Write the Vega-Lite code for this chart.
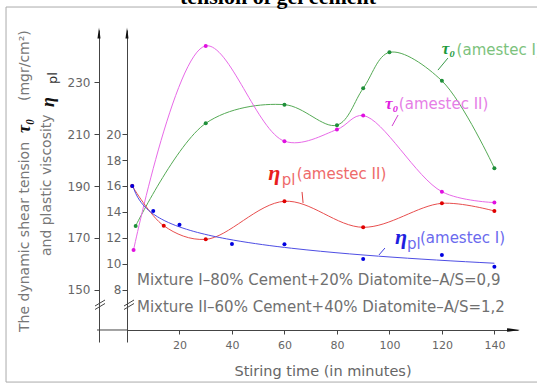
{
"$schema":"https://vega.github.io/schema/vega-lite/v6.json",
"width":391,"height":312,
"autosize":{"type":"none"},
"padding":{"left":127,"top":30,"right":19,"bottom":42},
"background":"white",
"config":{"view":{"stroke":null},"axis":{"grid":false,"domainColor":"#444","tickColor":"#444","labelColor":"#666","labelFont":"DejaVu Sans","titleFont":"DejaVu Sans","titleColor":"#666","titleFontWeight":"normal"}},
"datasets":{
"tau":[
{"t":3.3,"tau":174.6,"mix":"I"},{"t":30,"tau":214.2,"mix":"I"},{"t":60,"tau":221.4,"mix":"I"},{"t":80,"tau":213.5,"mix":"I"},{"t":90,"tau":227.7,"mix":"I"},{"t":100,"tau":241.6,"mix":"I"},{"t":120,"tau":230.6,"mix":"I"},{"t":140,"tau":196.9,"mix":"I"},
{"t":2.5,"tau":165.3,"mix":"II"},{"t":30,"tau":244.1,"mix":"II"},{"t":60,"tau":207.3,"mix":"II"},{"t":80,"tau":211.8,"mix":"II"},{"t":90,"tau":217.2,"mix":"II"},{"t":120,"tau":187.8,"mix":"II"},{"t":140,"tau":183.6,"mix":"II"}],
"eta":[
{"t":2,"eta":16.0,"mix":"I"},{"t":10,"eta":14.07,"mix":"I"},{"t":20,"eta":13.01,"mix":"I"},{"t":40,"eta":11.52,"mix":"I"},{"t":60,"eta":11.5,"mix":"I"},{"t":90,"eta":10.36,"mix":"I"},{"t":120,"eta":10.67,"mix":"I"},{"t":140,"eta":9.77,"mix":"I"},
{"t":2,"eta":16.0,"mix":"II"},{"t":14,"eta":12.93,"mix":"II"},{"t":30,"eta":11.88,"mix":"II"},{"t":60,"eta":14.82,"mix":"II"},{"t":90,"eta":12.81,"mix":"II"},{"t":120,"eta":14.66,"mix":"II"},{"t":140,"eta":14.07,"mix":"II"}],
"labels":[
{"t":119.9,"eta":26.58,"text":"τ₀","part":"sym","series":"tauI"},
{"t":98.3,"eta":22.33,"text":"τ₀","part":"sym","series":"tauII"},
{"t":53.85,"eta":17.0,"text":"η","part":"sym","series":"etaII"},
{"t":102.1,"eta":12.06,"text":"η","part":"sym","series":"etaI"},
{"t":125.6,"eta":26.54,"text":"(amestec I)","part":"name","series":"tauI"},
{"t":103.6,"eta":22.33,"text":"(amestec II)","part":"name","series":"tauII"},
{"t":64.7,"eta":16.93,"text":"(amestec II)","part":"name","series":"etaII"},
{"t":58.95,"eta":16.46,"text":"pl","part":"name","series":"etaII"},
{"t":111.65,"eta":11.98,"text":"(amestec I)","part":"name","series":"etaI"},
{"t":106.7,"eta":11.52,"text":"pl","part":"name","series":"etaI"},
{"t":3.81,"eta":8.74,"text":"Mixture I–80% Cement+20% Diatomite–A/S=0,9","part":"note","series":"all"},
{"t":3.81,"eta":6.66,"text":"Mixture II–60% Cement+40% Diatomite–A/S=1,2","part":"note","series":"all"},
{"t":-38.87,"eta":4.73,"text":"The dynamic shear tension","part":"ytitle","series":"all"},
{"t":-38.87,"eta":22.56,"text":"(mgr/cm²)","part":"ytitle","series":"all"},
{"t":-30.49,"eta":10.59,"text":"and plastic viscosity","part":"ytitle","series":"all"},
{"t":-38.87,"eta":20.1,"text":"τ₀","part":"ysym","series":"all"},
{"t":-29.9,"eta":22.1,"text":"η","part":"ysym","series":"all"},
{"t":-28.2,"eta":23.88,"text":"pl","part":"ysub","series":"all"},
{"t":57.54,"eta":30.09,"text":"tension of gel cement","part":"title","series":"all"}],
"segs":[
{"t":122.3,"eta":25.88,"t2":118.5,"eta2":24.95,"part":"leader","series":"tauI"},
{"t":103.3,"eta":21.48,"t2":101.0,"eta2":20.63,"part":"leader","series":"tauII"},
{"t":66.7,"eta":15.54,"t2":67.1,"eta2":14.69,"part":"leader","series":"etaII"},
{"t":98.3,"eta":11.21,"t2":96.0,"eta2":10.67,"part":"leader","series":"etaI"},
{"t":-12.19,"eta":6.733,"t2":-8.38,"eta2":7.196,"part":"break","series":"all"},
{"t":-12.19,"eta":6.463,"t2":-8.38,"eta2":6.926,"part":"break","series":"all"},
{"t":-1.14,"eta":6.733,"t2":2.67,"eta2":7.196,"part":"break","series":"all"},
{"t":-1.14,"eta":6.463,"t2":2.67,"eta2":6.926,"part":"break","series":"all"},
{"t":-11.43,"eta":4.88,"t2":0,"eta2":4.88,"part":"axis","series":"all"}],
"frame":[{"t":-46.1,"eta":29.82,"t2":157.5,"eta2":0.86}],
"arrows":[{"t":-10.67,"eta":27.81,"dir":"up"},{"t":0,"eta":27.81,"dir":"up"},{"t":147.3,"eta":4.88,"dir":"right"}]
},
"encoding":{"x":{"field":"t","type":"quantitative","scale":{"domain":[0,149],"nice":false,"zero":false},"axis":{"values":[20,40,60,80,100,120,140],"offset":-12,"tickSize":4,"labelFontSize":11,"labelPadding":5,"title":"Stiring time (in minutes)","titleFontSize":14.5,"titlePadding":14}}},
"layer":[
{"encoding":{"y":{"field":"tau","type":"quantitative","scale":{"domain":[129.77,250.23],"nice":false,"zero":false},"axis":{"orient":"left","offset":28,"values":[150,170,190,210,230],"tickSize":5,"labelFontSize":12,"labelPadding":4,"title":null}}},
"layer":[
{"data":{"name":"tau"},"transform":[{"filter":"datum.mix==='I'"}],"mark":{"type":"line","interpolate":"catmull-rom","color":"#55aa55","strokeWidth":1}},
{"data":{"name":"tau"},"transform":[{"filter":"datum.mix==='II'"}],"mark":{"type":"line","interpolate":"catmull-rom","color":"#e86ae8","strokeWidth":1}},
{"data":{"name":"tau"},"transform":[{"filter":"datum.mix==='I'"}],"mark":{"type":"point","filled":true,"opacity":1,"size":16,"color":"#1f8f3a"}},
{"data":{"name":"tau"},"transform":[{"filter":"datum.mix==='II'"}],"mark":{"type":"point","filled":true,"opacity":1,"size":16,"color":"#e010e0"}}
]},
{"encoding":{"y":{"field":"eta","type":"quantitative","scale":{"domain":[3.953,28.046],"nice":false,"zero":false},"axis":{"orient":"left","offset":0,"values":[8,10,12,14,16,18,20],"tickSize":5,"labelFontSize":12,"labelPadding":1,"title":null}}},
"layer":[
{"data":{"name":"frame"},"mark":{"type":"rect","fill":"transparent","stroke":"#aaa","strokeWidth":1},"encoding":{"x2":{"field":"t2"},"y2":{"field":"eta2"}}},
{"data":{"name":"eta"},"transform":[{"filter":"datum.mix==='II'"}],"mark":{"type":"line","interpolate":"catmull-rom","color":"#e84e4e","strokeWidth":1}},
{"data":{"name":"eta"},"transform":[{"filter":"datum.mix==='I'"},{"regression":"eta","on":"t","method":"log"}],"mark":{"type":"line","color":"#4e4ee4","strokeWidth":1}},
{"data":{"name":"eta"},"transform":[{"filter":"datum.mix==='II'"}],"mark":{"type":"point","filled":true,"opacity":1,"size":16,"color":"#e00000"}},
{"data":{"name":"eta"},"transform":[{"filter":"datum.mix==='I'"}],"mark":{"type":"point","filled":true,"opacity":1,"size":16,"color":"#0000e0"}},
{"data":{"name":"segs"},"transform":[{"filter":"datum.series==='tauI'"}],"mark":{"type":"rule","color":"#3a9a4a","strokeWidth":1},"encoding":{"x2":{"field":"t2"},"y2":{"field":"eta2"}}},
{"data":{"name":"segs"},"transform":[{"filter":"datum.series==='tauII'"}],"mark":{"type":"rule","color":"#d040d0","strokeWidth":1},"encoding":{"x2":{"field":"t2"},"y2":{"field":"eta2"}}},
{"data":{"name":"segs"},"transform":[{"filter":"datum.series==='etaII'"}],"mark":{"type":"rule","color":"#e04040","strokeWidth":1},"encoding":{"x2":{"field":"t2"},"y2":{"field":"eta2"}}},
{"data":{"name":"segs"},"transform":[{"filter":"datum.series==='etaI'"}],"mark":{"type":"rule","color":"#4040e0","strokeWidth":1},"encoding":{"x2":{"field":"t2"},"y2":{"field":"eta2"}}},
{"data":{"name":"segs"},"transform":[{"filter":"datum.series==='all'"}],"mark":{"type":"rule","color":"#444","strokeWidth":1},"encoding":{"x2":{"field":"t2"},"y2":{"field":"eta2"}}},
{"data":{"name":"arrows"},"transform":[{"filter":"datum.dir==='up'"}],"mark":{"type":"point","shape":"M0,-1L0.28,1L-0.28,1Z","filled":true,"opacity":1,"size":121,"color":"#111"}},
{"data":{"name":"arrows"},"transform":[{"filter":"datum.dir==='right'"}],"mark":{"type":"point","shape":"M1,0L-1,0.28L-1,-0.28Z","filled":true,"opacity":1,"size":169,"color":"#111"}},
{"data":{"name":"labels"},"transform":[{"filter":"datum.part==='sym' && datum.series==='tauI'"}],"mark":{"type":"text","align":"left","baseline":"middle","font":"Liberation Serif","fontStyle":"italic","fontWeight":"bold","fontSize":17,"color":"#1e9a3c"},"encoding":{"text":{"field":"text"}}},
{"data":{"name":"labels"},"transform":[{"filter":"datum.part==='sym' && datum.series==='tauII'"}],"mark":{"type":"text","align":"left","baseline":"middle","font":"Liberation Serif","fontStyle":"italic","fontWeight":"bold","fontSize":17,"color":"#e01ee0"},"encoding":{"text":{"field":"text"}}},
{"data":{"name":"labels"},"transform":[{"filter":"datum.part==='sym' && datum.series==='etaII'"}],"mark":{"type":"text","align":"left","baseline":"middle","font":"Liberation Serif","fontStyle":"italic","fontWeight":"bold","fontSize":22,"color":"#e81e1e"},"encoding":{"text":{"field":"text"}}},
{"data":{"name":"labels"},"transform":[{"filter":"datum.part==='sym' && datum.series==='etaI'"}],"mark":{"type":"text","align":"left","baseline":"middle","font":"Liberation Serif","fontStyle":"italic","fontWeight":"bold","fontSize":22,"color":"#1e1ee0"},"encoding":{"text":{"field":"text"}}},
{"data":{"name":"labels"},"transform":[{"filter":"datum.part==='name' && datum.series==='tauI'"}],"mark":{"type":"text","align":"left","baseline":"middle","font":"DejaVu Sans","fontSize":15,"color":"#7cc27c"},"encoding":{"text":{"field":"text"}}},
{"data":{"name":"labels"},"transform":[{"filter":"datum.part==='name' && datum.series==='tauII'"}],"mark":{"type":"text","align":"left","baseline":"middle","font":"DejaVu Sans","fontSize":15,"color":"#e67ee6"},"encoding":{"text":{"field":"text"}}},
{"data":{"name":"labels"},"transform":[{"filter":"datum.part==='name' && datum.series==='etaII'"}],"mark":{"type":"text","align":"left","baseline":"middle","font":"DejaVu Sans","fontSize":15,"color":"#ee6a6a"},"encoding":{"text":{"field":"text"}}},
{"data":{"name":"labels"},"transform":[{"filter":"datum.part==='name' && datum.series==='etaI'"}],"mark":{"type":"text","align":"left","baseline":"middle","font":"DejaVu Sans","fontSize":15,"color":"#6a6aee"},"encoding":{"text":{"field":"text"}}},
{"data":{"name":"labels"},"transform":[{"filter":"datum.part==='note'"}],"mark":{"type":"text","align":"left","baseline":"middle","font":"DejaVu Sans","fontSize":15,"color":"#707070"},"encoding":{"text":{"field":"text"}}},
{"data":{"name":"labels"},"transform":[{"filter":"datum.part==='ytitle'"}],"mark":{"type":"text","align":"left","baseline":"middle","angle":270,"font":"DejaVu Sans","fontSize":14,"color":"#777"},"encoding":{"text":{"field":"text"}}},
{"data":{"name":"labels"},"transform":[{"filter":"datum.part==='ysym'"}],"mark":{"type":"text","align":"left","baseline":"middle","angle":270,"font":"Liberation Serif","fontStyle":"italic","fontWeight":"bold","fontSize":18,"color":"#111"},"encoding":{"text":{"field":"text"}}},
{"data":{"name":"labels"},"transform":[{"filter":"datum.part==='ysub'"}],"mark":{"type":"text","align":"left","baseline":"middle","angle":270,"font":"DejaVu Sans","fontSize":13,"color":"#333"},"encoding":{"text":{"field":"text"}}},
{"data":{"name":"labels"},"transform":[{"filter":"datum.part==='title'"}],"mark":{"type":"text","align":"center","baseline":"alphabetic","font":"Liberation Serif","fontWeight":"bold","fontSize":22,"color":"#000"},"encoding":{"text":{"field":"text"}}}
]}
],
"resolve":{"scale":{"y":"independent"}}
}
